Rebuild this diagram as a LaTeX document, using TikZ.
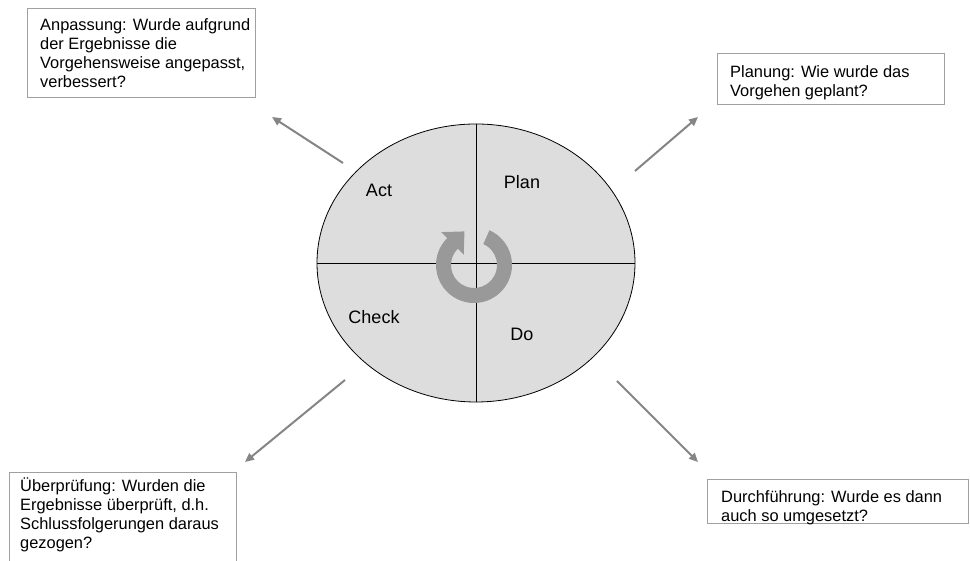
\documentclass[tikz,border=0pt]{standalone}
\usepackage{fontspec}
\setmainfont{Liberation Sans}
\usetikzlibrary{shapes.geometric,calc,arrows.meta}
\definecolor{ellfill}{HTML}{DDDDDD}
\definecolor{ringgray}{HTML}{999999}
\definecolor{arrgray}{HTML}{858585}
\definecolor{boxline}{HTML}{A0A0A0}
\begin{document}
\begin{tikzpicture}[x=1pt,y=1pt,
  frame/.style={draw=boxline, line width=0.9pt, anchor=north west, inner sep=0pt},
  boxtext/.style={anchor=north west, inner sep=0pt, align=left, font=\fontsize{16.4}{19}\selectfont},
  quad/.style={font=\fontsize{18}{20}\selectfont},
  outarrow/.style={draw=arrgray, line width=2pt, -{Triangle[length=9pt,width=8pt]}}]
\useasboundingbox (0,0) rectangle (970,561);
% central ellipse
\node[ellipse, draw, fill=ellfill, line width=0.8pt, minimum width=318, minimum height=278, inner sep=0pt] (pdca) at (476,298) {};
\draw[line width=0.8pt] (pdca.north) -- (pdca.south);
\draw[line width=0.8pt] (pdca.west) -- (pdca.east);
% circular arrow
\coordinate (C) at (474,296);
\fill[ringgray] ($(C)+(66:38)$) arc[start angle=66, end angle=-225, radius=38]
  -- ($(C)+(135:46.5)$) -- ($(C)+(135:30.5)+(45:17)$) -- ($(C)+(135:14.5)$)
  -- ($(C)+(135:23)$) arc[start angle=-225, end angle=66, radius=23] -- cycle;
% quadrant labels
\node[quad] (act) at (379,371) {Act};
\node[quad] (plan) at (522,379) {Plan};
\node[quad] (check) at (374,244) {Check};
\node[quad] (do) at (522,227) {Do};
% boxes
\node[frame, minimum width=228, minimum height=89] (anpbox) at (27,553) {};
\node[boxtext] (anp) at ($(anpbox.north west)+(13,-10)$) {Anpassung: Wurde aufgrund\\der Ergebnisse die\\Vorgehensweise angepasst,\\verbessert?};
\node[frame, minimum width=227, minimum height=51] (planbox) at (717,508) {};
\node[boxtext] (plantext) at ($(planbox.north west)+(13,-12)$) {Planung: Wie wurde das\\Vorgehen geplant?};
\node[frame, minimum width=227, minimum height=100] (uebbox) at (9,89) {};
\node[boxtext] (ueb) at ($(uebbox.north west)+(11,-6)$) {Überprüfung: Wurden die\\Ergebnisse überprüft, d.h.\\Schlussfolgerungen daraus\\gezogen?};
\node[frame, minimum width=261, minimum height=44] (durchbox) at (707,82) {};
\node[boxtext] (durch) at ($(durchbox.north west)+(14,-11)$) {Durchführung: Wurde es dann\\auch so umgesetzt?};
% arrows
\coordinate (a1s) at (343,398); \coordinate (a1e) at (272,444);
\coordinate (a2s) at (635,390); \coordinate (a2e) at (698,444);
\coordinate (a3s) at (345,181); \coordinate (a3e) at (245,99);
\coordinate (a4s) at (617,180); \coordinate (a4e) at (698,99);
\draw[outarrow] (a1s) -- (a1e);
\draw[outarrow] (a2s) -- (a2e);
\draw[outarrow] (a3s) -- (a3e);
\draw[outarrow] (a4s) -- (a4e);
\end{tikzpicture}
\end{document}
